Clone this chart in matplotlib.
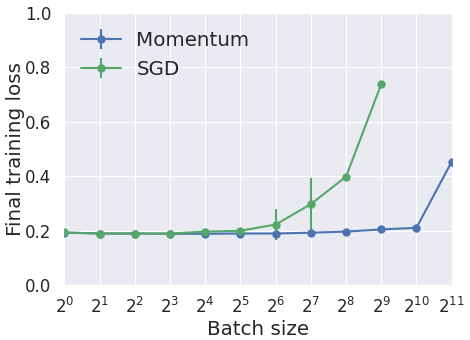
import numpy as np
import matplotlib
matplotlib.use("Agg")
import matplotlib.pyplot as plt
import seaborn as sns

sns.set_style("darkgrid")
plt.rcParams["font.family"] = ["DejaVu Sans"]

batch_sizes = [2**i for i in range(12)]
momentum_loss = [0.192, 0.189, 0.189, 0.188, 0.188, 0.189, 0.189, 0.192, 0.196, 0.204, 0.210, 0.453]
momentum_err = [0.003, 0.003, 0.003, 0.003, 0.003, 0.003, 0.005, 0.003, 0.003, 0.003, 0.004, 0.005]
sgd_batch = [2**i for i in range(10)]
sgd_loss = [0.193, 0.189, 0.189, 0.189, 0.196, 0.199, 0.222, 0.297, 0.398, 0.738]
sgd_err = [0.003, 0.003, 0.003, 0.003, 0.003, 0.003, 0.057, 0.095, 0.004, 0.010]

blue = "#4C72B0"
green = "#55A868"

fig = plt.figure(figsize=(4.7, 3.4), dpi=100)
ax = fig.add_axes([0.134, 0.162, 0.830, 0.800])
ax.errorbar(batch_sizes, momentum_loss, yerr=momentum_err, color=blue, marker="o",
            markersize=5, lw=1.5, elinewidth=1.5, label="Momentum")
ax.errorbar(sgd_batch, sgd_loss, yerr=sgd_err, color=green, marker="o",
            markersize=5, lw=1.5, elinewidth=1.5, label="SGD")
ax.set_xscale("log", base=2)
ax.set_xticks(batch_sizes)
ax.set_xticklabels([r"$2^{%d}$" % i for i in range(12)])
ax.minorticks_off()
ax.set_xlim(2**-0.04, 2**11.04)
ax.set_ylim(0, 1)
ax.set_yticks([0, 0.2, 0.4, 0.6, 0.8, 1.0])
ax.tick_params(labelsize=12, pad=5)
ax.set_xlabel("Batch size", fontsize=14.3, labelpad=2)
ax.set_ylabel("Final training loss", fontsize=14.3, labelpad=0)
ax.legend(fontsize=14.3, loc="upper left", frameon=False)
fig.savefig("out.png", dpi=100)
